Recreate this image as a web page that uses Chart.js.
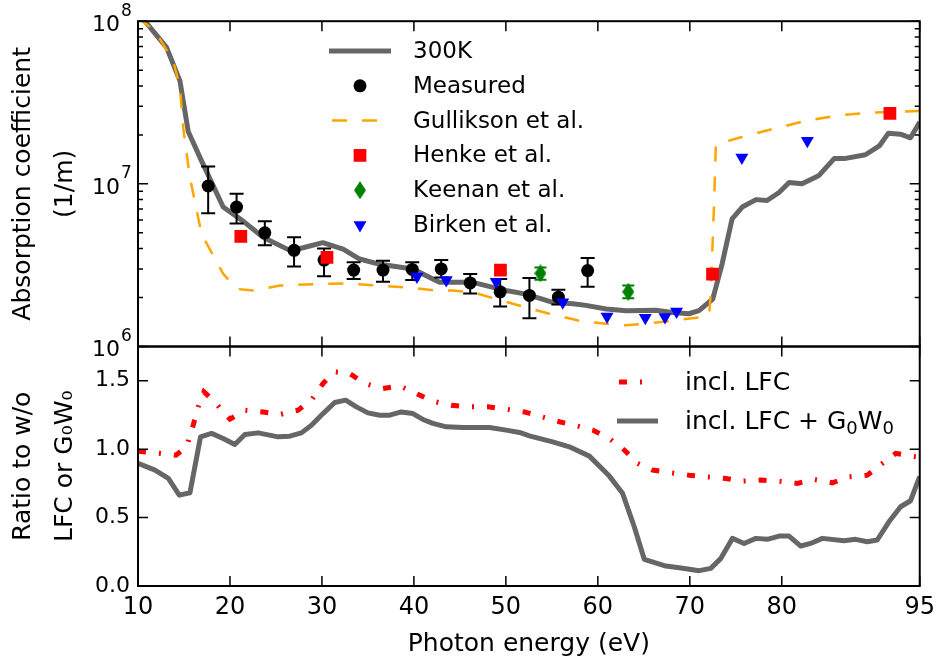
<!DOCTYPE html>
<html>
<head>
<meta charset="utf-8">
<title>Absorption coefficient</title>
<script src="https://cdn.jsdelivr.net/npm/chart.js@4.4.1/dist/chart.umd.min.js"></script>
<style>
    html, body { margin: 0; padding: 0; background: #fff; }
    canvas { display: block; }
</style>
</head>
<body>
<canvas id="absorption" width="942" height="665"></canvas>
<script>
const FONT = "'DejaVu Sans', sans-serif";

// axis ticks
const energyTicks = [10, 20, 30, 40, 50, 60, 70, 80, 95];
const decadeTicks = [1e6, 1e7, 1e8];
const ratioTicks = [0, 0.5, 1.0, 1.5];

// calculated absorption at 300K
const calcEnergy = [10, 10.76, 13.1, 14.56, 15.46, 16.92, 19.26, 21.43, 23.6, 26.5, 27.95, 30.1, 32.3, 34.1, 36.3, 39.9, 42.06, 42.8, 46.4, 48.6, 50.0, 52.2, 55.1, 57.3, 58.7, 60.9, 63.1, 66.3, 68.1, 69.9, 71.0, 72.5, 73.5, 74.6, 75.7, 77.2, 78.4, 79.7, 80.8, 82.2, 84.0, 85.7, 86.8, 89.1, 90.6, 91.6, 92.9, 94.0, 95];
const calcAbs = [1.1e8, 1.0e8, 6.9e7, 4.3e7, 2.1e7, 1.38e7, 7.2e6, 5.9e6, 4.7e6, 3.9e6, 4.05e6, 4.35e6, 3.97e6, 3.45e6, 3.2e6, 3.0e6, 2.6e6, 2.48e6, 2.48e6, 2.31e6, 2.21e6, 2.1e6, 1.87e6, 1.83e6, 1.79e6, 1.7e6, 1.66e6, 1.67e6, 1.62e6, 1.59e6, 1.66e6, 1.96e6, 3.2e6, 6.1e6, 7.2e6, 8.0e6, 7.9e6, 8.85e6, 1.02e7, 1.0e7, 1.12e7, 1.43e7, 1.43e7, 1.51e7, 1.71e7, 2.05e7, 2.02e7, 1.92e7, 2.4e7];

// measured points with error range
const measEnergy = [17.63, 20.72, 23.79, 26.97, 30.23, 33.45, 36.64, 39.82, 42.97, 46.12, 49.38, 52.56, 55.71, 58.89];
const measAbs = [9.7e6, 7.2e6, 5.0e6, 3.9e6, 3.4e6, 2.95e6, 2.95e6, 2.98e6, 3.0e6, 2.46e6, 2.17e6, 2.06e6, 2.01e6, 2.93e6];
const measLow = [6.6e6, 5.7e6, 4.2e6, 3.1e6, 2.7e6, 2.6e6, 2.5e6, 2.56e6, 2.66e6, 2.12e6, 1.76e6, 1.49e6, 1.81e6, 2.33e6];
const measHigh = [1.28e7, 8.7e6, 5.9e6, 4.7e6, 4.0e6, 3.3e6, 3.37e6, 3.3e6, 3.4e6, 2.79e6, 2.6e6, 2.64e6, 2.23e6, 3.5e6];

// literature
const gullEnergy = [10, 11.85, 13.83, 14.56, 14.92, 15.65, 16.92, 19.26, 20.72, 22.52, 25.42, 29.4, 32.66, 36.28, 39.17, 42.43, 44.23, 46.4, 48.95, 50.75, 54.73, 57.99, 60.89, 63.06, 65.23, 68.12, 71.02, 72.1, 72.29, 72.65, 72.83, 75.36, 78.98, 82.61, 86.22, 89.84, 95];
const gullAbs = [1.05e8, 8.7e7, 5.7e7, 3.9e7, 2.2e7, 1.09e7, 4.9e6, 2.8e6, 2.26e6, 2.21e6, 2.37e6, 2.42e6, 2.44e6, 2.37e6, 2.31e6, 2.21e6, 2.21e6, 2.15e6, 1.96e6, 1.83e6, 1.59e6, 1.44e6, 1.38e6, 1.35e6, 1.38e6, 1.44e6, 1.51e6, 1.55e6, 2.21e6, 7.9e6, 1.75e7, 1.92e7, 2.17e7, 2.44e7, 2.64e7, 2.74e7, 2.8e7];

const henkeEnergy = [21.18, 30.55, 49.41, 72.47, 91.76];
const henkeAbs = [4.75e6, 3.53e6, 2.95e6, 2.79e6, 2.71e7];

const keenanEnergy = [53.76, 63.31];
const keenanAbs = [2.82e6, 2.17e6];
const keenanLow = [2.57e6, 1.98e6];
const keenanHigh = [3.06e6, 2.37e6];

const birkenEnergy = [40.33, 43.52, 48.95, 56.18, 61.0, 65.16, 67.3, 68.56, 75.66, 82.78];
const birkenAbs = [2.69e6, 2.56e6, 2.5e6, 1.87e6, 1.53e6, 1.5e6, 1.52e6, 1.64e6, 1.45e7, 1.84e7];

// ratios
const lfcEnergy = [10, 11.85, 14.13, 15.29, 16.0, 16.55, 17.17, 18.36, 19.09, 20.0, 21.62, 23.6, 25.42, 27.41, 28.86, 30.12, 31.39, 33.0, 34.65, 36.64, 38.45, 40.26, 42.06, 44.06, 46.05, 48.03, 50.03, 52.02, 53.65, 55.82, 57.45, 59.44, 61.25, 62.88, 64.32, 65.95, 67.95, 69.93, 71.75, 73.92, 75.72, 77.72, 79.71, 81.7, 83.5, 85.5, 87.31, 89.3, 90.93, 92.38, 94.55, 95];
const lfcRatio = [0.985, 0.973, 0.956, 1.017, 1.175, 1.309, 1.418, 1.345, 1.285, 1.219, 1.285, 1.272, 1.253, 1.285, 1.358, 1.48, 1.564, 1.553, 1.48, 1.443, 1.462, 1.406, 1.35, 1.321, 1.309, 1.309, 1.292, 1.272, 1.241, 1.2, 1.175, 1.139, 1.078, 0.993, 0.896, 0.847, 0.827, 0.81, 0.798, 0.786, 0.766, 0.774, 0.766, 0.75, 0.779, 0.754, 0.798, 0.81, 0.896, 0.969, 0.944, 0.94];

const gwEnergy = [10, 11.85, 13.3, 14.49, 15.65, 16.8, 18.0, 19.26, 20.53, 21.62, 23.06, 25.23, 26.5, 27.77, 28.86, 30.12, 31.39, 32.58, 33.75, 35.0, 36.28, 37.36, 38.63, 39.89, 40.98, 42.06, 43.52, 45.32, 48.22, 50.03, 51.48, 52.56, 55.09, 56.9, 59.08, 61.25, 62.69, 63.96, 65.05, 67.4, 68.85, 71.02, 72.29, 73.38, 74.64, 75.9, 77.18, 78.44, 79.71, 80.79, 82.06, 83.14, 84.41, 86.77, 88.03, 89.3, 90.38, 91.65, 92.92, 94.0, 95];
const gwRatio = [0.896, 0.847, 0.786, 0.664, 0.681, 1.09, 1.115, 1.078, 1.034, 1.107, 1.119, 1.09, 1.095, 1.119, 1.175, 1.26, 1.341, 1.358, 1.309, 1.265, 1.248, 1.248, 1.272, 1.26, 1.217, 1.188, 1.163, 1.158, 1.158, 1.139, 1.122, 1.097, 1.053, 1.017, 0.949, 0.803, 0.677, 0.433, 0.195, 0.146, 0.134, 0.112, 0.129, 0.202, 0.348, 0.311, 0.348, 0.341, 0.365, 0.365, 0.292, 0.311, 0.348, 0.331, 0.341, 0.323, 0.336, 0.469, 0.579, 0.623, 0.8];

const toXY = (xs, ys) => xs.map((x, i) => ({x, y: ys[i]}));

// narrow diamond marker
const thinDiamond = (() => {
    const c = document.createElement('canvas');
    c.width = 12;
    c.height = 18;
    const g = c.getContext('2d');
    g.fillStyle = '#008000';
    g.beginPath();
    g.moveTo(6, 0);
    g.lineTo(12, 9);
    g.lineTo(6, 18);
    g.lineTo(0, 9);
    g.closePath();
    g.fill();
    return c;
})();

const fixWidth = (scale) => { scale.width = 138; };

// text with ₀ drawn as a lowered, smaller 0
const fillRich = (ctx, text, x, y, size) => {
    let cx = x;
    for (const ch of text) {
        const sub = ch === '₀';
        ctx.font = `${sub ? Math.round(size * 0.7) : size}px ${FONT}`;
        const s = sub ? '0' : ch;
        ctx.fillText(s, cx, sub ? y + size * 0.28 : y);
        cx += ctx.measureText(s).width;
    }
};

// vertical error bars for datasets that carry errLow / errHigh
const errorBars = {
    id: 'errorBars',
    beforeDatasetDraw(chart, args) {
        const ds = chart.data.datasets[args.index];
        if (!ds.errLow) return;
        const {ctx} = chart;
        const xs = chart.scales.x;
        const ys = chart.scales[ds.yAxisID];
        ctx.save();
        ctx.strokeStyle = ds.errColor;
        ctx.lineWidth = 2;
        ctx.beginPath();
        ds.data.forEach((p, i) => {
            const px = xs.getPixelForValue(p.x);
            const lo = ys.getPixelForValue(ds.errLow[i]);
            const hi = ys.getPixelForValue(ds.errHigh[i]);
            ctx.moveTo(px, lo); ctx.lineTo(px, hi);
            ctx.moveTo(px - ds.errCap, lo); ctx.lineTo(px + ds.errCap, lo);
            ctx.moveTo(px - ds.errCap, hi); ctx.lineTo(px + ds.errCap, hi);
        });
        ctx.stroke();
        ctx.restore();
    }
};

// frames, inward ticks, power-of-ten labels and in-panel legends
const panels = {
    id: 'panels',
    afterDraw(chart) {
        const {ctx} = chart;
        const {x, yAbs, yRatio} = chart.scales;
        const left = x.left, right = x.right;
        ctx.save();
        ctx.strokeStyle = '#000';
        ctx.lineWidth = 1.5;
        ctx.beginPath();
        const seg = (x1, y1, x2, y2) => { ctx.moveTo(x1, y1); ctx.lineTo(x2, y2); };
        [yAbs, yRatio].forEach(ys => {
            energyTicks.forEach(v => {
                const px = x.getPixelForValue(v);
                seg(px, ys.top, px, ys.top + 10);
                seg(px, ys.bottom, px, ys.bottom - 10);
            });
        });
        decadeTicks.forEach(v => {
            const py = yAbs.getPixelForValue(v);
            seg(left, py, left + 10, py);
            seg(right, py, right - 10, py);
        });
        for (let d = 1e6; d < 1e8; d *= 10) {
            for (let k = 2; k <= 9; k++) {
                const py = yAbs.getPixelForValue(k * d);
                seg(left, py, left + 5, py);
                seg(right, py, right - 5, py);
            }
        }
        ratioTicks.forEach(v => {
            const py = yRatio.getPixelForValue(v);
            seg(left, py, left + 10, py);
            seg(right, py, right - 10, py);
        });
        ctx.stroke();

        ctx.lineWidth = 2;
        ctx.strokeRect(left, yAbs.top, right - left, yAbs.bottom - yAbs.top);
        ctx.strokeRect(left, yRatio.top, right - left, yRatio.bottom - yRatio.top);

        // 10^n labels
        ctx.fillStyle = '#000';
        ctx.textBaseline = 'middle';
        decadeTicks.forEach(v => {
            const py = yAbs.getPixelForValue(v);
            ctx.font = `22px ${FONT}`;
            ctx.textAlign = 'right';
            ctx.fillText('10', left - 18, py + 4);
            ctx.font = `17px ${FONT}`;
            ctx.textAlign = 'left';
            ctx.fillText(String(Math.round(Math.log10(v))), left - 17, py - 10);
        });

        const ds = chart.data.datasets;
        const drawEntry = (d, x1, x2, y, tx, size) => {
            ctx.save();
            if (d.showLine) {
                ctx.strokeStyle = d.borderColor;
                ctx.lineWidth = d.borderWidth;
                ctx.setLineDash(d.borderDash || []);
                ctx.beginPath();
                ctx.moveTo(x1, y);
                ctx.lineTo(x2, y);
                ctx.stroke();
            } else {
                ctx.fillStyle = d.backgroundColor || '#000';
                Chart.helpers.drawPoint(ctx, {
                    pointStyle: d.pointStyle,
                    rotation: d.pointRotation || 0,
                    radius: d.pointRadius,
                    borderWidth: 0
                }, (x1 + x2) / 2, y);
            }
            ctx.restore();
            ctx.textAlign = 'left';
            ctx.fillStyle = '#000';
            fillRich(ctx, d.label, tx, y + 1, size);
        };

        // absorption legend
        [0, 1, 2, 3, 4, 5].forEach((i, row) => {
            const y = 51 + row * 34.8;
            const x1 = i === 2 ? 332 : 329;
            drawEntry(ds[i], x1, 391, y, 413, 23);
        });

        // ratio legend
        drawEntry(ds[6], 619, 650, 382, 685, 25);
        drawEntry(ds[7], 617, 658, 421, 685, 25);
        ctx.restore();
    }
};

new Chart(document.getElementById('absorption'), {
    type: 'scatter',
    data: {
        datasets: [
            {
                label: '300K', data: toXY(calcEnergy, calcAbs), yAxisID: 'yAbs',
                showLine: true, borderColor: '#666666', borderWidth: 5, borderJoinStyle: 'round',
                pointRadius: 0, order: 10
            },
            {
                label: 'Measured', data: toXY(measEnergy, measAbs), yAxisID: 'yAbs',
                pointStyle: 'circle', pointRadius: 6.5, backgroundColor: '#000000', borderWidth: 0,
                errLow: measLow, errHigh: measHigh, errColor: '#000000', errCap: 7, order: 8
            },
            {
                label: 'Gullikson et al.', data: toXY(gullEnergy, gullAbs), yAxisID: 'yAbs',
                showLine: true, borderColor: '#ffa500', borderWidth: 2.5, borderDash: [15, 15],
                pointRadius: 0, order: 9
            },
            {
                label: 'Henke et al.', data: toXY(henkeEnergy, henkeAbs), yAxisID: 'yAbs',
                pointStyle: 'rect', pointRadius: 9, backgroundColor: '#ff0000', borderWidth: 0, order: 7
            },
            {
                label: 'Keenan et al.', data: toXY(keenanEnergy, keenanAbs), yAxisID: 'yAbs',
                pointStyle: thinDiamond, pointRadius: 8, backgroundColor: '#008000', borderWidth: 0,
                errLow: keenanLow, errHigh: keenanHigh, errColor: '#008000', errCap: 6, order: 6
            },
            {
                label: 'Birken et al.', data: toXY(birkenEnergy, birkenAbs), yAxisID: 'yAbs',
                pointStyle: 'triangle', pointRotation: 180, pointRadius: 7.5,
                backgroundColor: '#0000ff', borderWidth: 0, order: 5
            },
            {
                label: 'incl. LFC', data: toXY(lfcEnergy, lfcRatio), yAxisID: 'yRatio',
                showLine: true, borderColor: '#ff0000', borderWidth: 5, borderDash: [8, 13, 2, 13],
                pointRadius: 0, order: 4
            },
            {
                label: 'incl. LFC + G₀W₀', data: toXY(gwEnergy, gwRatio), yAxisID: 'yRatio',
                showLine: true, borderColor: '#666666', borderWidth: 5, borderJoinStyle: 'round',
                pointRadius: 0, order: 3
            }
        ]
    },
    options: {
        responsive: false,
        devicePixelRatio: 1,
        animation: false,
        events: [],
        layout: { padding: { top: 20, right: 21, bottom: 0, left: 0 } },
        plugins: { legend: { display: false }, tooltip: { enabled: false } },
        scales: {
            x: {
                type: 'linear', position: 'bottom', min: 10, max: 95,
                afterBuildTicks: (s) => { s.ticks = energyTicks.map(v => ({value: v})); },
                afterFit: (s) => { s.height = 79; },
                grid: { display: false, drawTicks: false },
                border: { display: false },
                ticks: { color: '#000', padding: 7, font: { family: FONT, size: 24 }, maxRotation: 0 },
                title: {
                    display: true, text: 'Photon energy (eV)', color: '#000',
                    font: { family: FONT, size: 25 }, padding: { top: 0, bottom: 6 }
                }
            },
            yAbs: {
                type: 'logarithmic', position: 'left', min: 1e6, max: 1e8,
                stack: 'panels', stackWeight: 326, weight: 2,
                afterBuildTicks: (s) => { s.ticks = decadeTicks.map(v => ({value: v})); },
                afterFit: fixWidth,
                grid: { display: false, drawTicks: false },
                border: { display: false },
                ticks: { display: false },
                title: {
                    display: true, text: ['Absorption coefficient', '(1/m)'], color: '#000',
                    font: { family: FONT, size: 25, lineHeight: 42 / 25 }, padding: { top: 2 }
                }
            },
            yRatio: {
                type: 'linear', position: 'left', min: 0, max: 1.75,
                stack: 'panels', stackWeight: 240, weight: 1,
                afterBuildTicks: (s) => { s.ticks = ratioTicks.map(v => ({value: v})); },
                afterFit: fixWidth,
                grid: { display: false, drawTicks: false },
                border: { display: false },
                ticks: {
                    color: '#000', padding: 8, font: { family: FONT, size: 22 },
                    callback: (v) => v.toFixed(1)
                },
                title: {
                    display: true, text: ['Ratio to w/o', 'LFC or G₀W₀'], color: '#000',
                    font: { family: FONT, size: 25, lineHeight: 42 / 25 }, padding: { top: 2 }
                }
            }
        }
    },
    plugins: [errorBars, panels]
});
</script>
</body>
</html>
